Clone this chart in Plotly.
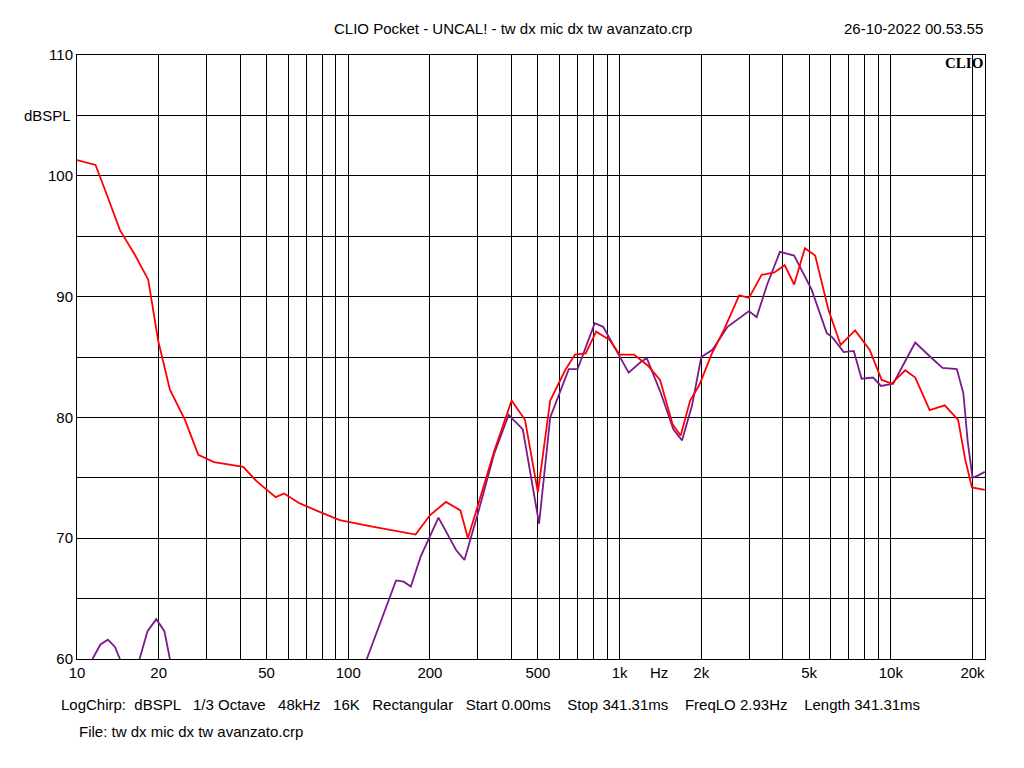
import plotly.graph_objects as go

# red trace (freq Hz, dBSPL)
red_f = [10, 11.7, 12.7, 14.4, 16.4, 18.3, 19.9, 22, 25, 28, 32, 41, 46, 54, 58, 66, 78, 93, 120, 155,
         177, 200, 229, 259, 276, 305, 346, 400, 448, 500, 555, 630, 685, 750, 820, 920, 1000, 1130,
         1270, 1410, 1570, 1680, 1820, 1970, 2180, 2420, 2760, 3000, 3340, 3720, 4060, 4400, 4820,
         5260, 5890, 6530, 7380, 8350, 9250, 10070, 11300, 12300, 13900, 15800, 17700, 18800, 19900, 22200]
red_db = [101.3, 100.9, 98.8, 95.5, 93.4, 91.4, 86.4, 82.3, 79.8, 76.9, 76.3, 75.9, 74.7, 73.4, 73.7,
          72.9, 72.2, 71.5, 71.0, 70.5, 70.3, 71.9, 73.0, 72.3, 70.0, 73.2, 77.3, 81.4, 79.8, 73.8,
          81.4, 83.9, 85.2, 85.3, 87.1, 86.4, 85.2, 85.2, 84.3, 83.1, 79.4, 78.5, 81.4, 82.7, 85.2,
          87.2, 90.1, 89.9, 91.8, 92.0, 92.6, 91.0, 94.0, 93.4, 88.9, 86.0, 87.2, 85.6, 83.1, 82.8,
          83.9, 83.3, 80.6, 81.0, 79.8, 76.5, 74.2, 74.0]

# purple trace, None breaks where it drops below the 60 dB floor
purple_f = [11.4, 12.2, 13, 13.8, 14.4, None, 17, 18.2, 19.6, 21, 22, None,
            117, 137, 150, 160, 170, 185, 215, 250, 268, 300, 345, 390, 440, 505, 555, 650, 700, 810, 870,
            1080, 1200, 1260, 1420, 1580, 1700, 1850, 2000, 2200, 2500, 3000, 3200, 3500, 3900,
            4400, 5100, 5800, 6100, 6700, 7300, 7800, 8600, 9200, 10200, 11200, 12300, 14000,
            15500, 17500, 18500, 19200, 20000, 21000, 22200]
purple_db = [60, 61.2, 61.6, 61.0, 60, None, 60, 62.3, 63.3, 62.3, 60, None,
             60, 64.2, 66.5, 66.4, 66.0, 68.5, 71.7, 69.0, 68.2, 72.0, 77.0, 80.2, 79.0, 71.2, 80.0, 84.0, 84.0,
             87.8, 87.5, 83.7, 84.6, 84.9, 82.0, 79.0, 78.1, 81.0, 85.0, 85.6, 87.5, 88.8, 88.3,
             91.0, 93.7, 93.4, 90.6, 87.0, 86.6, 85.4, 85.5, 83.2, 83.3, 82.6, 82.8, 84.5, 86.2,
             85.0, 84.1, 84.0, 82.0, 78.0, 75.0, 75.2, 75.5]

x_ticks = [10, 20, 50, 100, 200, 500, 1000, 2000, 5000, 10000, 20000]
x_labels = ["10", "20", "50", "100", "200", "500", "1k", "2k", "5k", "10k", "20k"]
x_grid = [m * 10 ** d for d in range(1, 5) for m in range(1, 10) if m * 10 ** d <= 22000]
y_ticks = [60, 70, 80, 90, 100, 110]

fig = go.Figure()
fig.add_trace(go.Scatter(x=purple_f, y=purple_db, mode="lines", line=dict(color="#7a1a8c", width=1.8),
                         connectgaps=False, showlegend=False))
fig.add_trace(go.Scatter(x=red_f, y=red_db, mode="lines", line=dict(color="#ff0000", width=1.8),
                         showlegend=False))

axfont = dict(family="Liberation Sans, Arial", size=15, color="black")
fig.update_xaxes(type="log", range=[1, 4.347], tickvals=x_ticks, ticktext=x_labels,
                 showgrid=True, gridcolor="black", gridwidth=1, tickfont=axfont, ticks="",
                 minor=dict(tickvals=x_grid, showgrid=True, gridcolor="black", gridwidth=1),
                 showline=True, linecolor="black", mirror=True, zeroline=False)
fig.update_yaxes(range=[60, 110], tickvals=y_ticks, showgrid=True, gridcolor="black", gridwidth=1,
                 tickfont=axfont, ticks="", minor=dict(dtick=5, showgrid=True, gridcolor="black"),
                 showline=True, linecolor="black", mirror=True, zeroline=False)

small = dict(family="Liberation Sans, Arial", size=15, color="black")
ann = [
    dict(text="CLIO Pocket - UNCAL! - tw dx mic dx tw avanzato.crp", x=0.48, y=1.0, yshift=37, xref="paper", yref="paper", showarrow=False, font=small),
    dict(text="26-10-2022 00.53.55", x=1.0, y=1.0, yshift=37, xref="paper", yref="paper", xanchor="right", showarrow=False, font=small),
    dict(text="<b>CLIO</b>", x=1.0, y=1.0, yshift=2, xref="paper", yref="paper", xanchor="right", showarrow=False,
         font=dict(family="Liberation Serif", size=15, color="black")),
    dict(text="dBSPL", x=0, y=105, xref="paper", yref="y", xanchor="right", xshift=-4, showarrow=False, font=axfont),
    dict(text="Hz", x=0.641, y=0, yref="paper", xref="paper", yshift=-24, showarrow=False, font=axfont),
    dict(text="LogChirp:  dBSPL   1/3 Octave   48kHz   16K   Rectangular   Start 0.00ms    Stop 341.31ms    FreqLO 2.93Hz    Length 341.31ms",
         x=-0.02, y=0, yshift=-56, xref="paper", yref="paper", xanchor="left", showarrow=False, font=small),
    dict(text="File: tw dx mic dx tw avanzato.crp", x=0.0, y=0, yshift=-83, xref="paper", yref="paper", xanchor="left", showarrow=False, font=small),
]
fig.update_layout(width=1008, height=752, margin=dict(l=69, r=31, t=47, b=101),
                  plot_bgcolor="white", paper_bgcolor="white", annotations=ann)

fig.write_html("out.html")
